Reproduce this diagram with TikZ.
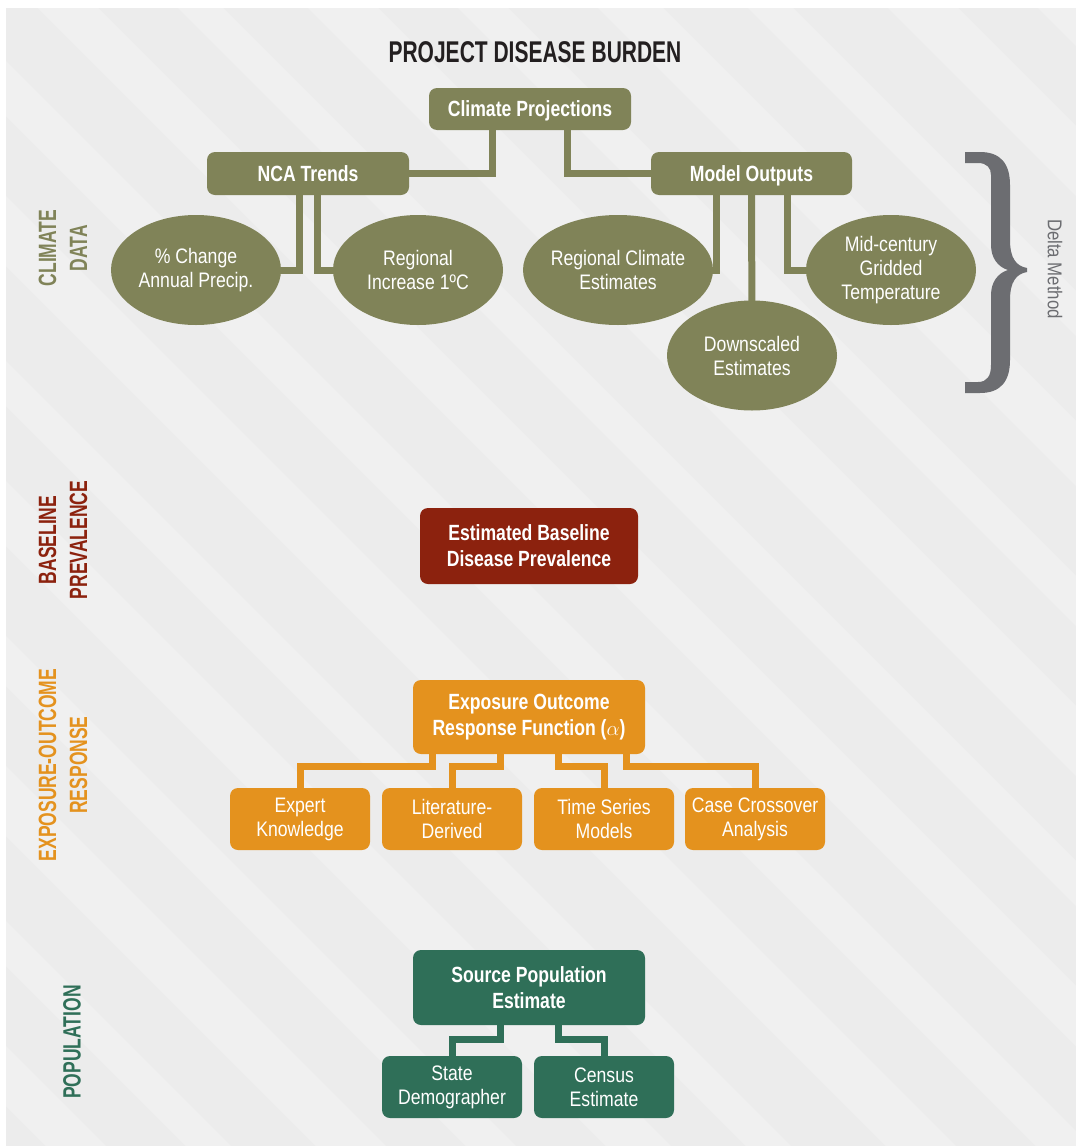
\documentclass[tikz,border=0pt]{standalone}
\usepackage{fontspec}
\setmainfont{Liberation Sans}
\newfontfamily\tcond[FakeStretch=0.70]{Liberation Sans}
\newfontfamily\bcond[FakeStretch=0.80]{Liberation Sans}
\newfontfamily\rcond[FakeStretch=0.84]{Liberation Sans}
\usetikzlibrary{shapes.geometric,backgrounds}
\definecolor{cOlive}{RGB}{128,131,88}
\definecolor{cBrick}{RGB}{140,34,14}
\definecolor{cOrange}{RGB}{228,146,30}
\definecolor{cGreen}{RGB}{47,111,88}
\definecolor{cTitle}{RGB}{35,31,32}
\definecolor{cBrace}{RGB}{108,109,113}
\definecolor{cBg}{RGB}{236,236,236}
\begin{document}
\begin{tikzpicture}[x=1pt,y=-1pt,
  boldbox/.style={rectangle, rounded corners=8pt, inner sep=0pt, align=center, text=white,
    font=\bcond\bfseries\fontsize{22}{26}\selectfont},
  regbox/.style={rectangle, rounded corners=8pt, inner sep=0pt, align=center, text=white,
    font=\rcond\fontsize{21}{24}\selectfont, minimum width=140pt, minimum height=62pt},
  ell/.style={ellipse, inner sep=0pt, align=center, text=white, fill=cOlive,
    font=\rcond\fontsize{21}{24}\selectfont, minimum width=170pt, minimum height=110pt},
  sidelabel/.style={rotate=90, align=center, inner sep=0pt,
    font=\tcond\bfseries\fontsize{25}{31}\selectfont},
  conn/.style={line width=7pt, line join=miter},
]
\useasboundingbox (0,0) rectangle (1076,1146);

% title
\node[text=cTitle, inner sep=0pt, font=\tcond\bfseries\fontsize{30}{34}\selectfont] (title) at (535,52.5) {PROJECT DISEASE BURDEN};

% climate data
\node[boldbox, fill=cOlive, minimum width=202pt, minimum height=42pt, text depth=0pt] (cp) at (530,109) {Climate Projections};
\node[boldbox, fill=cOlive, minimum width=202pt, minimum height=43pt, text depth=0pt] (nca) at (308,173.5) {NCA Trends};
\node[boldbox, fill=cOlive, minimum width=201pt, minimum height=43pt, text depth=0pt] (mo) at (751.5,173.5) {Model Outputs};
\node[ell] (pc) at (196,270) {\% Change\\Annual Precip.};
\node[ell] (ri) at (418,270) {Regional\\Increase 1ºC};
\node[ell] (rce) at (618,270) {Regional Climate\\Estimates};
\node[ell] (mcg) at (891,270) {Mid-century\\Gridded\\Temperature};
\node[ell] (dse) at (752,355.5) {Downscaled\\Estimates};

% brace and delta method
\fill[cBrace] (965,152) -- (980,152) .. controls (1000,152) and (1010,163) .. (1010,185)
  -- (1010,240) .. controls (1010,258) and (1016,266) .. (1027,268)
  -- (1027,272) .. controls (1016,274) and (1010,282) .. (1010,300)
  -- (1010,360) .. controls (1010,382) and (1000,393) .. (980,393)
  -- (965,393) -- (965,382) -- (978,382) .. controls (987,382) and (991,376) .. (991,365)
  -- (991,295) .. controls (991,282) and (998,273) .. (1008,270)
  .. controls (998,267) and (991,258) .. (991,245)
  -- (991,175) .. controls (991,168) and (987,163) .. (978,163) -- (965,163) -- cycle;
\node[rotate=-90, text=cBrace, inner sep=0pt, font=\rcond\fontsize{20}{24}\selectfont] (delta) at (1055,269) {Delta Method};

% baseline
\node[boldbox, fill=cBrick, minimum width=218pt, minimum height=76pt] (ebp) at (529,546) {Estimated Baseline\\Disease Prevalence};

% exposure outcome
\node[boldbox, fill=cOrange, minimum width=232pt, minimum height=74pt] (eor) at (529,717) {Exposure Outcome\\Response Function ($\alpha$)};
\node[regbox, fill=cOrange] (ek) at (300,819) {Expert\\Knowledge};
\node[regbox, fill=cOrange] (ld) at (452,819) {Literature-\\Derived};
\node[regbox, fill=cOrange] (ts) at (604,819) {Time Series\\Models};
\node[regbox, fill=cOrange] (cc) at (755,819) {Case Crossover\\Analysis};

% population
\node[boldbox, fill=cGreen, minimum width=232pt, minimum height=75pt] (spe) at (529,987.5) {Source Population\\Estimate};
\node[regbox, fill=cGreen] (sd) at (452,1087) {State\\Demographer};
\node[regbox, fill=cGreen] (ce) at (604,1087) {Census\\Estimate};

% side labels
\node[sidelabel, text=cOlive] (lcd) at (63,248) {CLIMATE\\DATA};
\node[sidelabel, text=cBrick] (lbp) at (63,540) {BASELINE\\PREVALENCE};
\node[sidelabel, text=cOrange] (leo) at (63,765) {EXPOSURE-OUTCOME\\RESPONSE};
\node[sidelabel, text=cGreen] (lpop) at (72,1042) {POPULATION};

\begin{pgfonlayer}{background}
  \fill[white] (0,0) rectangle (1076,1146);
  \fill[cBg] (6,8) rectangle (1076,1146);
  \begin{scope}
    \clip (6,8) rectangle (1076,1146);
    \foreach \c/\w in {-1100/60,-960/45,-830/70,-680/50,-540/65,-400/45,-260/70,-110/55,30/60,170/45,300/70,450/50,590/65,740/45,880/70,1030/55}
      \fill[white, opacity=0.22] (\c,0) -- ++(\w,0) -- ++(1146,1146) -- ++(-\w,0) -- cycle;
  \end{scope}
  % climate connectors
  \draw[conn, cOlive] ([xshift=-37.5pt]cp.center) |- (nca.center);
  \draw[conn, cOlive] ([xshift=37.5pt]cp.center) |- (mo.center);
  \draw[conn, cOlive] ([xshift=-9pt]nca.center) |- (pc.center);
  \draw[conn, cOlive] ([xshift=9pt]nca.center) |- (ri.center);
  \draw[conn, cOlive] ([xshift=-35.5pt]mo.center) |- (rce.center);
  \draw[conn, cOlive] (mo.center) -- (dse.center);
  \draw[conn, cOlive] ([xshift=35.5pt]mo.center) |- (mcg.center);
  % exposure connectors
  \draw[conn, cOrange] ([xshift=-97pt]eor.center) |- ([yshift=21pt]ek.north) -- (ek.center);
  \draw[conn, cOrange] ([xshift=-29pt]eor.center) |- ([yshift=21pt]ld.north) -- (ld.center);
  \draw[conn, cOrange] ([xshift=29pt]eor.center) |- ([yshift=21pt]ts.north) -- (ts.center);
  \draw[conn, cOrange] ([xshift=97pt]eor.center) |- ([yshift=21pt]cc.north) -- (cc.center);
  % population connectors
  \draw[conn, cGreen] ([xshift=-29pt]spe.center) |- ([yshift=16pt]sd.north) -- (sd.center);
  \draw[conn, cGreen] ([xshift=29pt]spe.center) |- ([yshift=16pt]ce.north) -- (ce.center);
\end{pgfonlayer}
\end{tikzpicture}
\end{document}
